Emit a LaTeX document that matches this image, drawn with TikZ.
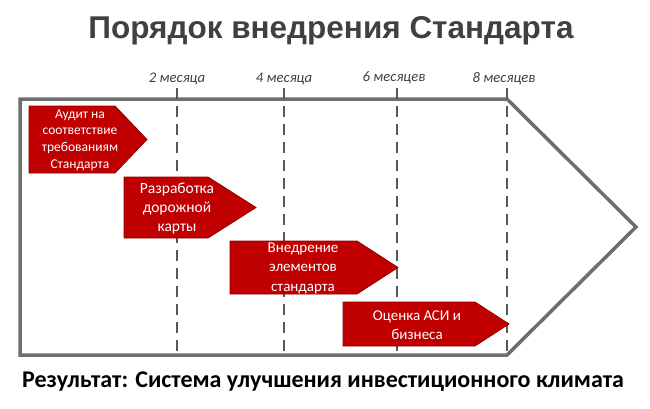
\documentclass[tikz,border=0pt]{standalone}
\usepackage{fontspec}
\setmainfont{Carlito}
\newfontfamily\titlefont{Liberation Sans}
\usetikzlibrary{calc}
\definecolor{tgray}{HTML}{404040}
\definecolor{lgray}{HTML}{6E6E6E}
\definecolor{dgray}{HTML}{595959}
\definecolor{myred}{HTML}{C00000}
\definecolor{redborder}{HTML}{8E0000}
\tikzset{
  outline/.style={draw=lgray, line width=3.5pt, line join=miter},
  monthline/.style={draw=dgray, line width=2.8pt, dash pattern=on 11pt off 7pt},
  monthlabel/.style={font=\fontsize{14.7}{16}\selectfont\itshape, text=tgray, anchor=base},
  redarrow/.style={fill=myred, draw=redborder, line width=0.8pt},
  boxtext/.style={text=white, align=center, inner sep=0pt},
}
\begin{document}
\begin{tikzpicture}[x=1pt,y=-1pt]
\useasboundingbox (0,0) rectangle (650,408);
% title
\node[font=\titlefont\bfseries\fontsize{31.5}{34}\selectfont, text=tgray] (title) at (331,31) {Порядок внедрения Стандарта};
% big outline arrow
\draw[outline] (20,99) -- (507,99) -- (636,227) -- (507,355) -- (20,355) -- cycle;
% month lines
\foreach \x/\n in {177/a,284/b,397/c,507/d}{
  \coordinate (top\n) at (\x,88);
  \coordinate (bot\n) at (\x,356);
  \draw[monthline] (top\n) -- (bot\n);
}
\node[monthlabel] (m2) at (177,82) {2 месяца};
\node[monthlabel] (m4) at (284,82) {4 месяца};
\node[monthlabel] (m6) at (394,81) {6 месяцев};
\node[monthlabel] (m8) at (504,82) {8 месяцев};
% red arrows
\draw[redarrow] (29,106) -- (115,106) -- (147,139.5) -- (115,173) -- (29,173) -- cycle;
\draw[redarrow] (124,177) -- (208,177) -- (256,207.5) -- (208,238) -- (124,238) -- cycle;
\draw[redarrow] (230,241) -- (357,241) -- (398,267.5) -- (357,294) -- (230,294) -- cycle;
\draw[redarrow] (343,302) -- (475,302) -- (509,324) -- (475,346) -- (343,346) -- cycle;
% texts
\node[boxtext, font=\fontsize{13.5}{16.8}\selectfont] (t1) at (80,140) {Аудит на\\соответствие\\требованиям\\Стандарта};
\node[boxtext, font=\fontsize{15.5}{19}\selectfont] (t2) at (177,208) {Разработка\\дорожной\\карты};
\node[boxtext, font=\fontsize{15}{19.5}\selectfont] (t3) at (303,268) {Внедрение\\элементов\\стандарта};
\node[boxtext, font=\fontsize{15}{19}\selectfont] (t4) at (417,325) {Оценка АСИ и\\бизнеса};
% result
\node[font=\bfseries\fontsize{24}{27}\selectfont, text=black] (res) at (323,382) {Результат: Система улучшения инвестиционного климата};
\end{tikzpicture}
\end{document}
